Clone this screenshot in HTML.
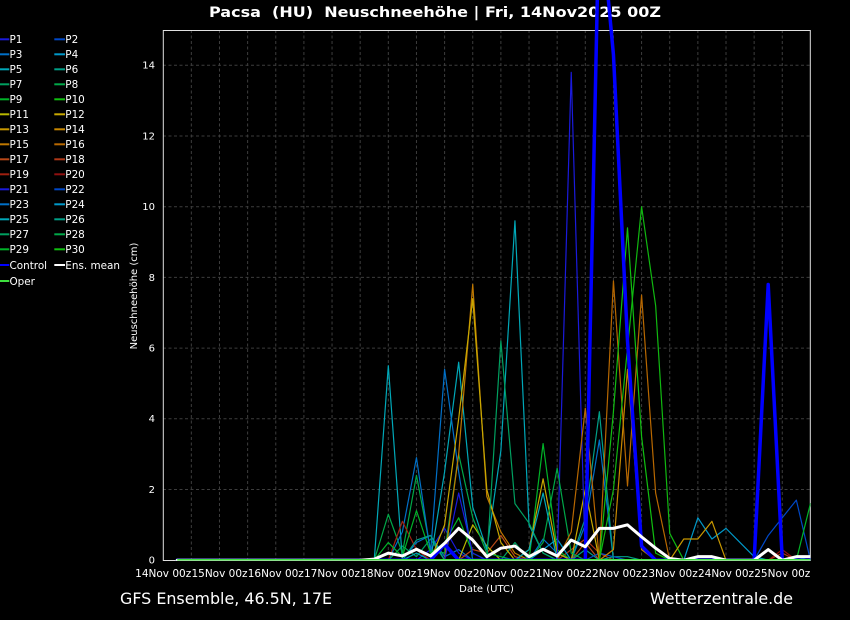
<!DOCTYPE html>
<html>
<head>
<meta charset="utf-8">
<style>
  html,body{margin:0;padding:0;background:#000;}
  svg{display:block;}
  text{font-family:"DejaVu Sans","Liberation Sans",sans-serif;fill:#fff;}
</style>
</head>
<body>
<svg width="850" height="620" viewBox="0 0 850 620" xmlns="http://www.w3.org/2000/svg">
  <rect x="0" y="0" width="850" height="620" fill="#000"/>
  <defs>
    <clipPath id="pc"><rect x="163.2" y="0" width="647.2" height="560.5"/></clipPath>
  </defs>

  <!-- Title -->
  <text x="209" y="17" font-size="14" font-weight="bold" textLength="452" lengthAdjust="spacingAndGlyphs" style="white-space:pre">Pacsa  (HU)  Neuschneehöhe | Fri, 14Nov2025 00Z</text>

  <!-- grid -->
  <g stroke="#3d3d3d" stroke-width="1" stroke-dasharray="3,2.5" fill="none">
    <line x1="191.34" y1="30" x2="191.34" y2="560"/>
    <line x1="219.48" y1="30" x2="219.48" y2="560"/>
    <line x1="247.62" y1="30" x2="247.62" y2="560"/>
    <line x1="275.76" y1="30" x2="275.76" y2="560"/>
    <line x1="303.9" y1="30" x2="303.9" y2="560"/>
    <line x1="332.04" y1="30" x2="332.04" y2="560"/>
    <line x1="360.18" y1="30" x2="360.18" y2="560"/>
    <line x1="388.32" y1="30" x2="388.32" y2="560"/>
    <line x1="416.46" y1="30" x2="416.46" y2="560"/>
    <line x1="444.6" y1="30" x2="444.6" y2="560"/>
    <line x1="472.74" y1="30" x2="472.74" y2="560"/>
    <line x1="500.88" y1="30" x2="500.88" y2="560"/>
    <line x1="529.02" y1="30" x2="529.02" y2="560"/>
    <line x1="557.16" y1="30" x2="557.16" y2="560"/>
    <line x1="585.3" y1="30" x2="585.3" y2="560"/>
    <line x1="613.44" y1="30" x2="613.44" y2="560"/>
    <line x1="641.58" y1="30" x2="641.58" y2="560"/>
    <line x1="669.72" y1="30" x2="669.72" y2="560"/>
    <line x1="697.86" y1="30" x2="697.86" y2="560"/>
    <line x1="726.0" y1="30" x2="726.0" y2="560"/>
    <line x1="754.14" y1="30" x2="754.14" y2="560"/>
    <line x1="782.28" y1="30" x2="782.28" y2="560"/>
    <line x1="163" y1="489.5" x2="810" y2="489.5"/>
    <line x1="163" y1="418.8" x2="810" y2="418.8"/>
    <line x1="163" y1="348.1" x2="810" y2="348.1"/>
    <line x1="163" y1="277.4" x2="810" y2="277.4"/>
    <line x1="163" y1="206.7" x2="810" y2="206.7"/>
    <line x1="163" y1="136.0" x2="810" y2="136.0"/>
    <line x1="163" y1="65.3" x2="810" y2="65.3"/>
  </g>

  <!-- frame -->
  <rect x="163.3" y="30.5" width="647" height="530" fill="none" stroke="#e0e0e0" stroke-width="1"/>

  <!-- data -->
  <g clip-path="url(#pc)">
    <g transform="translate(163.2 560.2) scale(14.07 -35.35)" fill="none" stroke-linejoin="round" stroke-linecap="round">
      <g stroke-width="1.2">
        <polyline vector-effect="non-scaling-stroke" stroke="#0070c8" points="17,0 18,0.5 19,0.7 20,0.1 21,0.3 22,0"/>
        <polyline vector-effect="non-scaling-stroke" stroke="#1a1adc" points="18,0 19,0.3 20,0.9 21,0.2 22,0"/>
        <polyline vector-effect="non-scaling-stroke" stroke="#b84818" points="21,0 22,0.3 23,0.2 24,0.7 25,0.1 26,0 29,0 30,0.5 31,0"/>
        <polyline vector-effect="non-scaling-stroke" stroke="#b03818" points="28,0 29,0.3 30,0.6 31,0.2 32,0 43,0 44,0.2 45,0"/>
        <polyline vector-effect="non-scaling-stroke" stroke="#00a088" points="29,0 30,0.3 31,0 32,0.1 33,0.1 34,0 44,0 45,0.1 46,0"/>
        <polyline vector-effect="non-scaling-stroke" stroke="#00a060" points="16,0 17,0.4 18,0.1 19,0.6 20,0 24,0 25,0.5 26,0"/>
        <polyline vector-effect="non-scaling-stroke" stroke="#b8b800" points="21,0 22,1.0 23,0.4 24,0"/>
        <polyline vector-effect="non-scaling-stroke" stroke="#0098c8" points="26,0 27,0.3 28,0.6 29,0"/>
        <polyline vector-effect="non-scaling-stroke" stroke="#0048c8" points="30,0 31,0.2 32,0.1 33,0"/>

        <polyline vector-effect="non-scaling-stroke" stroke="#00a8b8" points="14,0 15,0 16,5.5 17,0 18,0.2 19,0 20,2.5 21,5.6 22,1.5 23,0.3 24,3.1 25,9.6 26,1.0 27,0.2 28,0"/>
        <polyline vector-effect="non-scaling-stroke" stroke="#00a848" points="14,0 15,0 16,1.3 17,0.2 18,2.4 19,0.3 20,0.2 21,3.0 22,1.2 23,0.2 24,0.1 25,0"/>
        <polyline vector-effect="non-scaling-stroke" stroke="#0070c8" points="15,0 16,0 17,0.8 18,2.9 19,0.2 20,5.4 21,2.5 22,0 26,0 27,0.6 28,0.2 29,0 30,1.0 31,3.4 32,0"/>
        <polyline vector-effect="non-scaling-stroke" stroke="#a02010" points="15,0 16,0 17,1.1 18,0.3 19,0"/>
        <polyline vector-effect="non-scaling-stroke" stroke="#00b428" points="14,0 15,0 16,0.5 17,0.1 18,1.4 19,0.2 20,0.5 21,1.2 22,0.2 23,0 26,0 27,3.3 28,0.3 29,0"/>
        <polyline vector-effect="non-scaling-stroke" stroke="#00a088" points="17,0 18,0.57 19,0.7 20,0 29,0 30,1.2 31,4.2 32,0"/>
        <polyline vector-effect="non-scaling-stroke" stroke="#c07800" points="19,0 20,0 21,3.0 22,7.8 23,1.8 24,0.8 25,0.2 26,0"/>
        <polyline vector-effect="non-scaling-stroke" stroke="#c8a800" points="19,0 20,1.0 21,4.0 22,7.4 23,2.0 24,0.5 25,0 26,0.3 27,2.3 28,0.2 29,0 30,2.0 31,0"/>
        <polyline vector-effect="non-scaling-stroke" stroke="#1a1adc" points="20,0 21,1.9 22,0.2 23,0 28,0 29,13.8 30,0"/>
        <polyline vector-effect="non-scaling-stroke" stroke="#00a060" points="22,0 23,0 24,6.2 25,1.6 26,1.05 27,0.2 28,0"/>
        <polyline vector-effect="non-scaling-stroke" stroke="#00a848" points="26,0 27,0.5 28,2.6 29,0.2 30,0"/>
        <polyline vector-effect="non-scaling-stroke" stroke="#00a8b8" points="25,0 26,0.3 27,1.9 28,0"/>
        <polyline vector-effect="non-scaling-stroke" stroke="#b86800" points="28,0 29,0.8 30,4.3 31,0 32,7.9 33,2.1 34,7.5 35,1.9 36,0"/>
        <polyline vector-effect="non-scaling-stroke" stroke="#c88800" points="31,0 32,0.3 33,5.4 34,0.3 35,0"/>
        <polyline vector-effect="non-scaling-stroke" stroke="#10c010" points="31,0 32,4.2 33,9.4 34,3.5 35,0.2 36,0"/>
        <polyline vector-effect="non-scaling-stroke" stroke="#10b810" points="31,0 32,2.0 33,6.0 34,10.0 35,7.2 36,0.76 37,0"/>
        <polyline vector-effect="non-scaling-stroke" stroke="#0098c8" points="36,0 37,0 38,1.2 39,0.6 40,0.9 41,0.5 42,0.1 43,0"/>
        <polyline vector-effect="non-scaling-stroke" stroke="#c89800" points="36,0 37,0.6 38,0.6 39,1.1 40,0"/>
        <polyline vector-effect="non-scaling-stroke" stroke="#0048c8" points="42,0 43,0.7 44,1.2 45,1.7 46,0"/>
        <polyline vector-effect="non-scaling-stroke" stroke="#00b428" points="45,0 46,1.6"/>
        <polyline vector-effect="non-scaling-stroke" stroke="#901010" points="43,0 44,0.3 45,0"/>
      </g>
      <!-- Control -->
      <polyline vector-effect="non-scaling-stroke" stroke="#0000ff" stroke-width="3.5" points="1,0 19,0 20,0.45 21,0 30,0 31,18.6 32,14.3 33,6.2 34,0.4 35,0 42,0 43,7.8 44,0 46,0"/>
      <!-- Ens mean -->
      <polyline vector-effect="non-scaling-stroke" stroke="#ffffff" stroke-width="3" points="1,0 14,0 15,0.03 16,0.2 17,0.12 18,0.31 19,0.12 20,0.48 21,0.9 22,0.57 23,0.1 24,0.34 25,0.4 26,0.1 27,0.31 28,0.12 29,0.57 30,0.38 31,0.9 32,0.9 33,1.0 34,0.66 35,0.34 36,0.05 37,0 38,0.1 39,0.1 40,0 42,0 43,0.3 44,0 45,0.1 46,0.1"/>
      <!-- Oper -->
      <polyline vector-effect="non-scaling-stroke" stroke="#3ee03e" stroke-width="2.5" stroke-linecap="butt" points="1,0 46,0"/>
    </g>
  </g>

  <!-- y tick labels -->
  <g font-size="10" text-anchor="end">
    <text x="155" y="563.6">0</text>
    <text x="155" y="492.9">2</text>
    <text x="155" y="422.2">4</text>
    <text x="155" y="351.5">6</text>
    <text x="155" y="280.8">8</text>
    <text x="155" y="210.1">10</text>
    <text x="155" y="139.4">12</text>
    <text x="155" y="68.7">14</text>
  </g>
  <text transform="translate(137 296) rotate(-90)" font-size="10" text-anchor="middle">Neuschneehöhe (cm)</text>

  <!-- x tick labels -->
  <g font-size="10.5" text-anchor="middle">
    <text x="163.2" y="577">14Nov 00z</text>
    <text x="219.5" y="577">15Nov 00z</text>
    <text x="275.8" y="577">16Nov 00z</text>
    <text x="332.0" y="577">17Nov 00z</text>
    <text x="388.3" y="577">18Nov 00z</text>
    <text x="444.6" y="577">19Nov 00z</text>
    <text x="500.9" y="577">20Nov 00z</text>
    <text x="557.2" y="577">21Nov 00z</text>
    <text x="613.4" y="577">22Nov 00z</text>
    <text x="669.7" y="577">23Nov 00z</text>
    <text x="726.0" y="577">24Nov 00z</text>
    <text x="782.3" y="577">25Nov 00z</text>
  </g>
  <text x="486.5" y="592" font-size="10" text-anchor="middle">Date (UTC)</text>

  <!-- footer -->
  <text x="120" y="604" font-size="16" textLength="212" lengthAdjust="spacingAndGlyphs" fill="#e8e8e8">GFS Ensemble, 46.5N, 17E</text>
  <text x="650" y="604" font-size="16" textLength="143" lengthAdjust="spacingAndGlyphs" fill="#e8e8e8">Wetterzentrale.de</text>

  <!-- legend -->
  <g stroke-width="2">
    <line x1="0" y1="39.3" x2="9.3" y2="39.3" stroke="#1a1adc"/><line x1="54.3" y1="39.3" x2="65" y2="39.3" stroke="#0048c8"/>
    <line x1="0" y1="54.3" x2="9.3" y2="54.3" stroke="#0070c8"/><line x1="54.3" y1="54.3" x2="65" y2="54.3" stroke="#0098c8"/>
    <line x1="0" y1="69.3" x2="9.3" y2="69.3" stroke="#00a8b8"/><line x1="54.3" y1="69.3" x2="65" y2="69.3" stroke="#00a088"/>
    <line x1="0" y1="84.3" x2="9.3" y2="84.3" stroke="#00a060"/><line x1="54.3" y1="84.3" x2="65" y2="84.3" stroke="#00a848"/>
    <line x1="0" y1="99.3" x2="9.3" y2="99.3" stroke="#00b428"/><line x1="54.3" y1="99.3" x2="65" y2="99.3" stroke="#10c010"/>
    <line x1="0" y1="114.3" x2="9.3" y2="114.3" stroke="#b8b800"/><line x1="54.3" y1="114.3" x2="65" y2="114.3" stroke="#c8a800"/>
    <line x1="0" y1="129.3" x2="9.3" y2="129.3" stroke="#c89800"/><line x1="54.3" y1="129.3" x2="65" y2="129.3" stroke="#c88800"/>
    <line x1="0" y1="144.3" x2="9.3" y2="144.3" stroke="#c07800"/><line x1="54.3" y1="144.3" x2="65" y2="144.3" stroke="#b86800"/>
    <line x1="0" y1="159.3" x2="9.3" y2="159.3" stroke="#b84818"/><line x1="54.3" y1="159.3" x2="65" y2="159.3" stroke="#b03818"/>
    <line x1="0" y1="174.3" x2="9.3" y2="174.3" stroke="#a02010"/><line x1="54.3" y1="174.3" x2="65" y2="174.3" stroke="#901010"/>
    <line x1="0" y1="189.3" x2="9.3" y2="189.3" stroke="#1a1adc"/><line x1="54.3" y1="189.3" x2="65" y2="189.3" stroke="#0048c8"/>
    <line x1="0" y1="204.3" x2="9.3" y2="204.3" stroke="#0070c8"/><line x1="54.3" y1="204.3" x2="65" y2="204.3" stroke="#0098c8"/>
    <line x1="0" y1="219.3" x2="9.3" y2="219.3" stroke="#00a8b8"/><line x1="54.3" y1="219.3" x2="65" y2="219.3" stroke="#00a088"/>
    <line x1="0" y1="234.3" x2="9.3" y2="234.3" stroke="#00a060"/><line x1="54.3" y1="234.3" x2="65" y2="234.3" stroke="#00a848"/>
    <line x1="0" y1="249.3" x2="9.3" y2="249.3" stroke="#00b428"/><line x1="54.3" y1="249.3" x2="65" y2="249.3" stroke="#10c010"/>
    <line x1="0" y1="265" x2="9.3" y2="265" stroke="#0000ff"/><line x1="54.3" y1="265" x2="65" y2="265" stroke="#ffffff"/>
    <line x1="0" y1="281" x2="9.3" y2="281" stroke="#3ee03e"/>
  </g>
  <g font-size="10.4">
    <text x="9.5" y="43.1">P1</text><text x="65.3" y="43.1">P2</text>
    <text x="9.5" y="58.1">P3</text><text x="65.3" y="58.1">P4</text>
    <text x="9.5" y="73.1">P5</text><text x="65.3" y="73.1">P6</text>
    <text x="9.5" y="88.1">P7</text><text x="65.3" y="88.1">P8</text>
    <text x="9.5" y="103.1">P9</text><text x="65.3" y="103.1">P10</text>
    <text x="9.5" y="118.1">P11</text><text x="65.3" y="118.1">P12</text>
    <text x="9.5" y="133.1">P13</text><text x="65.3" y="133.1">P14</text>
    <text x="9.5" y="148.1">P15</text><text x="65.3" y="148.1">P16</text>
    <text x="9.5" y="163.1">P17</text><text x="65.3" y="163.1">P18</text>
    <text x="9.5" y="178.1">P19</text><text x="65.3" y="178.1">P20</text>
    <text x="9.5" y="193.1">P21</text><text x="65.3" y="193.1">P22</text>
    <text x="9.5" y="208.1">P23</text><text x="65.3" y="208.1">P24</text>
    <text x="9.5" y="223.1">P25</text><text x="65.3" y="223.1">P26</text>
    <text x="9.5" y="238.1">P27</text><text x="65.3" y="238.1">P28</text>
    <text x="9.5" y="253.1">P29</text><text x="65.3" y="253.1">P30</text>
    <text x="9.5" y="268.8">Control</text><text x="65.3" y="268.8">Ens. mean</text>
    <text x="9.5" y="284.8">Oper</text>
  </g>
</svg>
</body>
</html>
